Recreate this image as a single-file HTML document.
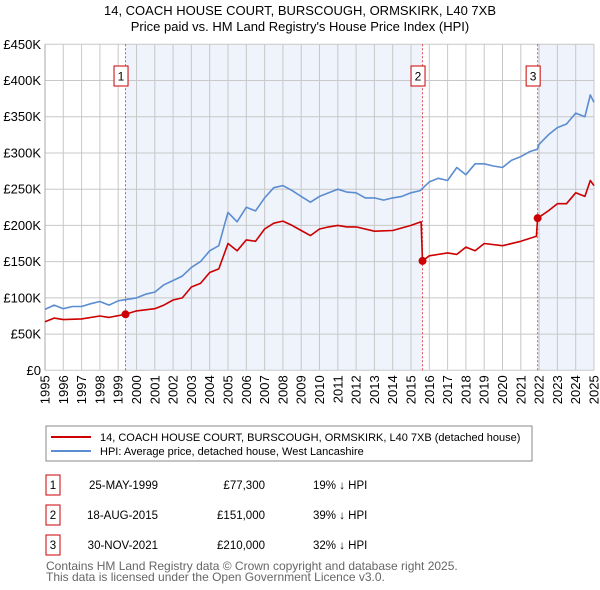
<!DOCTYPE html>
<html><head><meta charset="utf-8"><style>
body{margin:0;background:#fff;}
svg{display:block;font-family:"Liberation Sans","DejaVu Sans",sans-serif;}
</style></head><body>
<svg id="c" width="600" height="590" viewBox="0 0 600 590">
<text x="300" y="15" text-anchor="middle" font-size="13" fill="#000">14, COACH HOUSE COURT, BURSCOUGH, ORMSKIRK, L40 7XB</text>
<text x="300" y="31" text-anchor="middle" font-size="13" fill="#000">Price paid vs. HM Land Registry's House Price Index (HPI)</text>
<g id="plot"></g>
<rect x="46" y="426" width="486" height="35" fill="#fff" stroke="#888"/>
<line x1="51" y1="437" x2="91" y2="437" stroke="#cc0000" stroke-width="2"/>
<text x="100" y="441" font-size="11">14, COACH HOUSE COURT, BURSCOUGH, ORMSKIRK, L40 7XB (detached house)</text>
<line x1="51" y1="451" x2="91" y2="451" stroke="#5b8dd0" stroke-width="2"/>
<text x="100" y="455" font-size="11">HPI: Average price, detached house, West Lancashire</text>
<g id="tbl" font-size="11.5"></g>
<text x="46" y="570" font-size="12" fill="#666">Contains HM Land Registry data © Crown copyright and database right 2025.</text>
<text x="46" y="581" font-size="12" fill="#666">This data is licensed under the Open Government Licence v3.0.</text>
</svg>
<script>
const hpiYears=[1995,1995.5,1996,1996.5,1997,1997.5,1998,1998.5,1999,1999.5,2000,2000.5,2001,2001.5,2002,2002.5,2003,2003.5,2004,2004.5,2004.8,2005,2005.5,2006,2006.5,2007,2007.5,2008,2008.5,2009,2009.5,2010,2010.5,2011,2011.5,2012,2012.5,2013,2013.5,2014,2014.5,2015,2015.5,2016,2016.5,2017,2017.5,2018,2018.5,2019,2019.5,2020,2020.5,2021,2021.5,2021.9,2022,2022.5,2023,2023.5,2024,2024.5,2024.8,2025];
const hpiValues=[84,90,85,88,88,92,95,90,96,98,100,105,108,118,124,130,142,150,165,172,200,218,205,225,220,238,252,255,248,240,232,240,245,250,246,245,238,238,235,238,240,245,248,260,265,262,280,270,285,285,282,280,290,295,302,305,312,325,335,340,355,350,380,370];
const priceYears=[1995,1995.5,1996,1997,1998,1998.5,1999.4,2000,2001,2001.5,2002,2002.5,2003,2003.5,2004,2004.5,2005,2005.5,2006,2006.5,2007,2007.5,2008,2008.5,2009,2009.5,2010,2010.5,2011,2011.5,2012,2013,2014,2015,2015.55,2015.63,2016,2017,2017.5,2018,2018.5,2019,2020,2021,2021.85,2021.92,2022.5,2023,2023.5,2024,2024.5,2024.8,2025];
const priceValues=[67,72,70,71,75,73,77.3,82,85,90,97,100,115,120,135,140,175,165,180,178,195,203,206,200,193,186,195,198,200,198,198,192,193,200,205,151,158,162,160,170,165,175,172,178,185,210,220,230,230,245,240,262,255];
const sales=[{n:"1",year:1999.4,date:"25-MAY-1999",price:77.3,priceLabel:"£77,300",pct:"19% ↓ HPI"},{n:"2",year:2015.63,date:"18-AUG-2015",price:151,priceLabel:"£151,000",pct:"39% ↓ HPI"},{n:"3",year:2021.92,date:"30-NOV-2021",price:210,priceLabel:"£210,000",pct:"32% ↓ HPI"}];
const yTicks=[0,50,100,150,200,250,300,350,400,450];
const yTickLabels=["£0","£50K","£100K","£150K","£200K","£250K","£300K","£350K","£400K","£450K"];
const xTicks=[1995,1996,1997,1998,1999,2000,2001,2002,2003,2004,2005,2006,2007,2008,2009,2010,2011,2012,2013,2014,2015,2016,2017,2018,2019,2020,2021,2022,2023,2024,2025];

const L=45,R=594,T=44.3,B=370.3;
const xs=y=>L+(y-1995)/30*(R-L);
const ys=v=>B-v/450*(B-T);
const NS="http://www.w3.org/2000/svg";
const plot=document.getElementById('plot');
function mk(tag,attrs,parent){const e=document.createElementNS(NS,tag);for(const k in attrs)e.setAttribute(k,attrs[k]);(parent||plot).appendChild(e);return e;}

let r=mk('rect',{x:L,y:T,width:R-L,height:B-T,fill:'#fff'});


let s1=mk('rect',{x:xs(sales[0].year),y:T,width:xs(sales[1].year)-xs(sales[0].year),height:B-T,fill:'#eef3fc'});


let s3=mk('rect',{x:xs(sales[2].year),y:T,width:R-xs(sales[2].year),height:B-T,fill:'#eef3fc'});



yTicks.forEach((v,i)=>{
  let g=mk('line',{x1:L,x2:R,y1:ys(v),y2:ys(v),stroke:'#c8c8c8','stroke-width':1});
  
  
  let t=mk('text',{x:L-4,y:ys(v)+4.5,'text-anchor':'end','font-size':13});
  
  
  t.textContent=yTickLabels[i];
});
xTicks.forEach(y=>{
  let g=mk('line',{x1:xs(y),x2:xs(y),y1:T,y2:B,stroke:'#c8c8c8','stroke-width':1});
  
  
  let t=mk('text',{x:0,y:0,'font-size':13,'text-anchor':'end',transform:`translate(${xs(y)+4.5},${B+5}) rotate(-90)`});
  
  
  t.textContent=y;
});
let ax=mk('line',{x1:L,x2:L,y1:T,y2:B,stroke:'#aaa'});



sales.forEach(s=>{
  let l=mk('line',{x1:xs(s.year),x2:xs(s.year),y1:T,y2:B,stroke:'#e05050','stroke-dasharray':'2,2','stroke-width':1});
  
  
});

function path(xa,va,color,name){
  let d=xa.map((x,i)=>(i?'L':'M')+xs(x).toFixed(1)+','+ys(va[i]).toFixed(1)).join('');
  let p=mk('path',{d:d,fill:'none',stroke:color,'stroke-width':1.6,'stroke-linejoin':'round'});
  
  
}
path(hpiYears,hpiValues,'#5b8dd0','hpi-line');
path(priceYears,priceValues,'#cc0000','price-line');

sales.forEach(s=>{
  let c=mk('circle',{cx:xs(s.year),cy:ys(s.price),r:4,fill:'#cc0000'});
  
  
  let bx=mk('rect',{x:xs(s.year)-11.5,y:66,width:14,height:20,fill:'#fff',stroke:'#cc0000'});
  
  
  let t=mk('text',{x:xs(s.year)-4.5,y:80.5,'text-anchor':'middle','font-size':12});
  
  
  t.textContent=s.n;
});

const tbl=document.getElementById('tbl');
sales.forEach((s,i)=>{
  const y=475+i*30;
  let b=mk('rect',{x:46,y:y,width:14,height:20,fill:'#fff',stroke:'#cc0000'},tbl);
  
  
  let t=mk('text',{x:53,y:y+14,'text-anchor':'middle'},tbl);
  
  
  t.textContent=s.n;
  let d=mk('text',{x:158,y:y+14,'text-anchor':'end'},tbl);
  
  
  d.textContent=s.date;
  let p=mk('text',{x:265,y:y+14,'text-anchor':'end'},tbl);
  
  
  p.textContent=s.priceLabel;
  let h=mk('text',{x:313,y:y+14},tbl);
  
  
  h.textContent=s.pct;
});
</script>
</body></html>
